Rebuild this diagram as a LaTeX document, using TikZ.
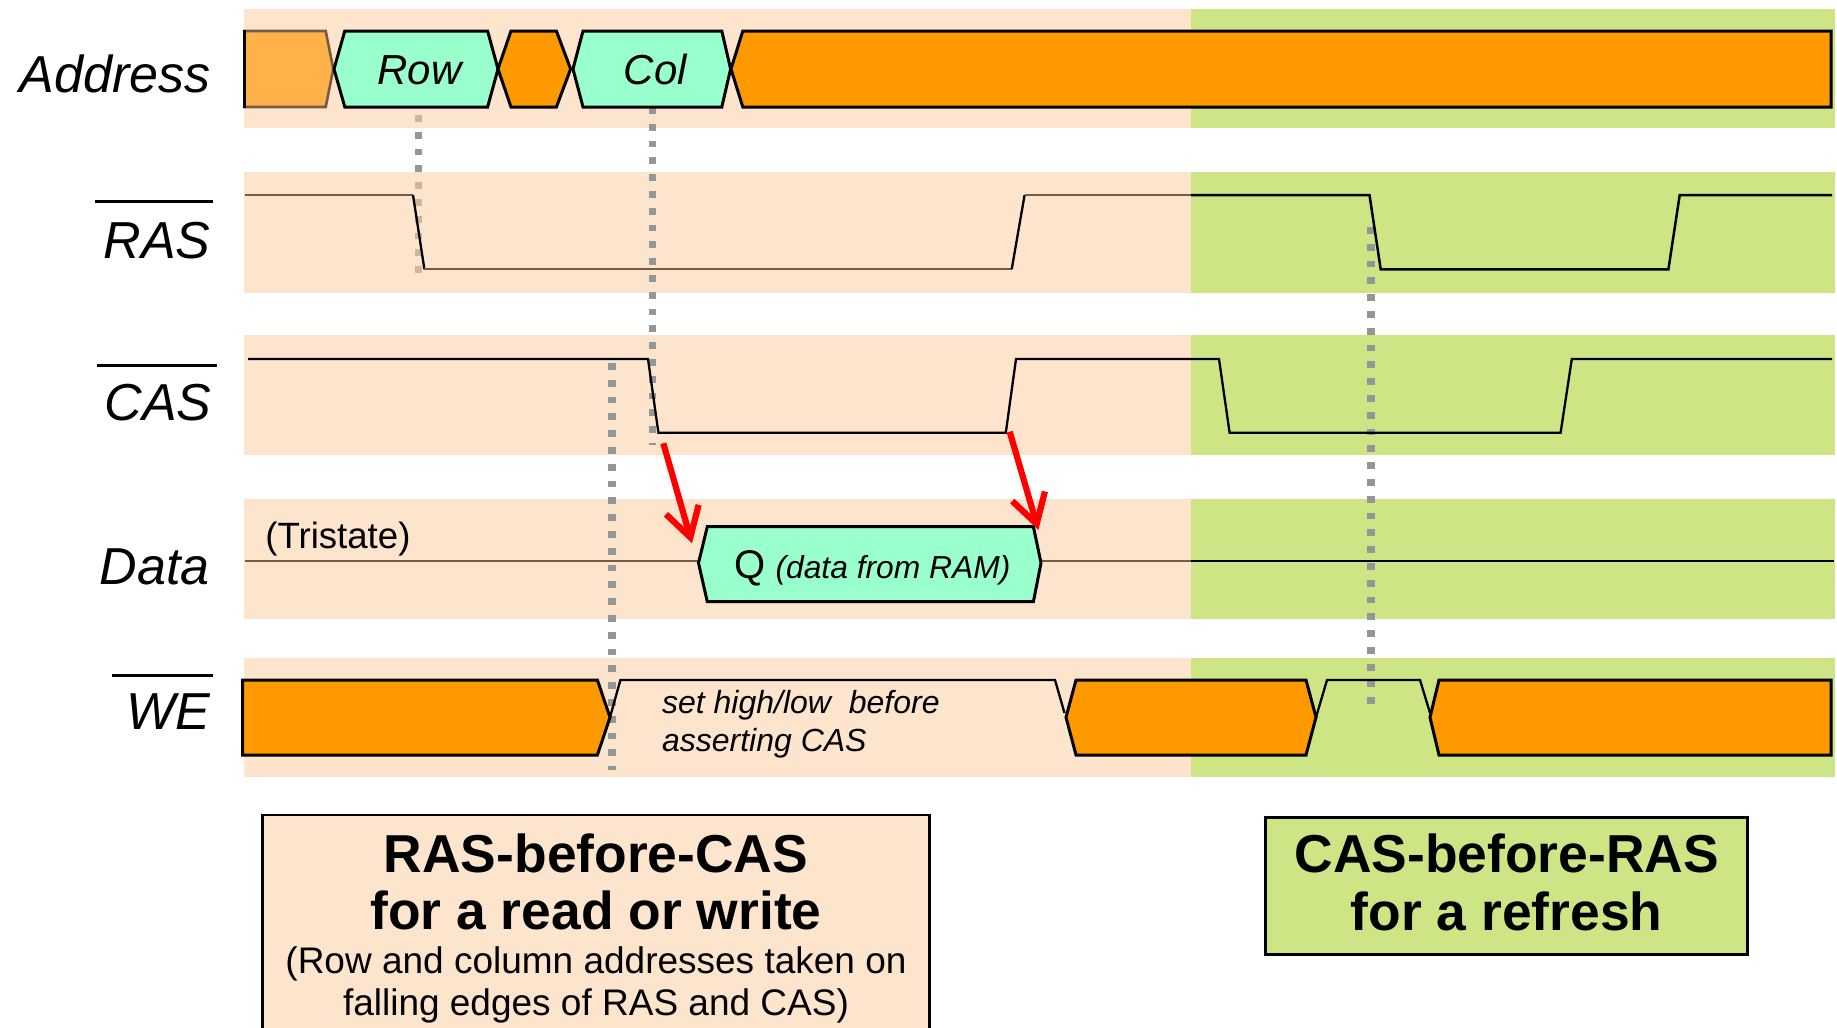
\documentclass[tikz,border=0pt]{standalone}
\usepackage{fontspec}
\setmainfont{Liberation Sans}
\usetikzlibrary{arrows.meta}
\definecolor{peach}{RGB}{253,229,205}
\definecolor{lime}{RGB}{205,229,132}
\definecolor{orng}{RGB}{255,153,0}
\definecolor{lorng}{RGB}{255,178,74}
\definecolor{mint}{RGB}{153,255,204}
\definecolor{dotgray}{RGB}{150,150,150}
\definecolor{sigbrown}{RGB}{120,92,66}
\definecolor{dotlight}{RGB}{205,182,158}
\begin{document}
\begin{tikzpicture}[x=0.5pt,y=-0.5pt,
  band/.style={fill=#1,draw=none},
  hexbox/.style={fill=#1,draw=black,line width=1.5pt,line join=miter},
  sig/.style={draw=black,line width=1.15pt,line join=miter},
  sigb/.style={draw=sigbrown,line width=1.1pt},
  guide/.style={draw=dotgray,line width=3.6pt,dash pattern=on 3.4pt off 5pt},
  redarrow/.style={draw=red,line width=3.1pt,-{Straight Barb[length=14.5pt,width=17pt]}},
  lbl/.style={anchor=base east,inner sep=0pt,font=\fontsize{26}{30}\selectfont\itshape},
  ovl/.style={line width=1.5pt},
  fieldtxt/.style={anchor=base,inner sep=0pt,font=\fontsize{21}{25}\selectfont\itshape},
  notetxt/.style={anchor=base west,inner sep=0pt,font=\fontsize{16}{19}\selectfont\itshape},
  boldtxt/.style={anchor=base,inner sep=0pt,font=\fontsize{26.7}{31}\selectfont\bfseries},
  smalltxt/.style={anchor=base,inner sep=0pt,font=\fontsize{18.5}{22}\selectfont},
  caption/.style={line width=1.25pt,draw=black}
]
\useasboundingbox (0,0) rectangle (1837,1028);
\clip (0,0) rectangle (1837,1028);

% ---------- bands ----------
\foreach \ya/\yb in {9/128,172/293,335/455,499/619,658/777}{
  \path[band=peach] (244,\ya) rectangle (1191,\yb);
  \path[band=lime] (1191,\ya) rectangle (1835,\yb);
}

% ---------- guide (dotted) lines ----------
\coordinate (rowT) at (418.7,115);
\coordinate (rowB) at (418.7,280);
\coordinate (colT) at (652.5,107);
\coordinate (colB) at (652.5,445);
\coordinate (weT) at (612,363);
\coordinate (weB) at (612,770);
\coordinate (refT) at (1371,227);
\coordinate (refB) at (1371,707);
\draw[guide] (rowT) -- (rowB);
\begin{scope}
  \clip (244,9) rectangle (1835,128) (244,172) rectangle (1835,293);
  \draw[guide,draw=dotlight] (rowT) -- (rowB);
\end{scope}
\draw[guide] (colT) -- (colB);
\draw[guide] (weT) -- (weB);
\draw[guide] (refT) -- (refB);

% ---------- Address ----------
\path[fill=lorng,draw=sigbrown,line width=1.3pt] (244.5,31) -- (325.7,31) -- (333.3,69) -- (325.7,107) -- (244.5,107) -- cycle;
\draw[line width=1.5pt] (244.5,30) -- (244.5,108);
\path[hexbox=mint] (334,69) -- (344.8,31) -- (487.6,31) -- (498,69) -- (487.6,107) -- (344.8,107) -- cycle;
\path[hexbox=orng] (498,69) -- (511,31) -- (556.4,31) -- (570.6,69) -- (556.4,107) -- (511,107) -- cycle;
\path[hexbox=mint] (573,69) -- (583,31) -- (721.8,31) -- (730.6,69) -- (721.8,107) -- (583,107) -- cycle;
\path[hexbox=orng] (731,69) -- (742.8,31) -- (1831,31) -- (1831,107) -- (742.8,107) -- cycle;
\node[fieldtxt] (rowtxt) at (419.4,84.3) {Row};
\node[fieldtxt] (coltxt) at (655.5,84.3) {Col};

% ---------- RAS ----------
\draw[sigb] (244.5,195) -- (413,195);
\draw[sig] (413,195) -- (424.4,269.3);
\draw[sigb] (424.4,269.3) -- (1011.7,269.3);
\draw[sig] (1011.7,269.3) -- (1024.6,195);
\draw[sigb] (1024.6,195) -- (1191,195);
\draw[sig,line width=1.25pt] (1191,195) -- (1369.5,195) -- (1380.7,269.3) -- (1668.4,269.3) -- (1679.7,195) -- (1832,195);

% ---------- CAS ----------
\draw[sig] (248,359) -- (648,359) -- (658.4,432.7) -- (1005.8,432.7) -- (1016,359) -- (1219,359) -- (1229.6,432.7) -- (1560.6,432.7) -- (1571.8,359) -- (1832,359);

% ---------- Data ----------
\draw[sigb] (245,561) -- (698.5,561);
\draw[sigb] (1041,561) -- (1191,561);
\draw[sig,line width=1.25pt] (1191,561) -- (1834,561);
\path[hexbox=mint] (698.5,563) -- (707.3,526.7) -- (1033.4,526.7) -- (1041,563) -- (1033.4,601.7) -- (707.3,601.7) -- cycle;
\node[anchor=base west,inner sep=0pt] (qtxt) at (734,578) {\fontsize{20}{24}\selectfont Q\hspace{5pt}{\fontsize{15.9}{19}\selectfont\itshape (data from RAM)}};
\node[anchor=base west,inner sep=0pt,font=\fontsize{18.3}{22}\selectfont] (tri) at (265,548.3) {(Tristate)};

% ---------- WE ----------
\path[hexbox=orng] (242.6,680) -- (597.4,680) -- (610,717.3) -- (597.4,755) -- (242.6,755) -- cycle;
\draw[sig] (610,717.3) -- (620.4,680) -- (1055,680) -- (1064.5,713);
\path[hexbox=orng] (1066,717.3) -- (1076,680) -- (1306,680) -- (1316,717.3) -- (1306,755) -- (1076,755) -- cycle;
\draw[sig] (1316,717.3) -- (1327,680) -- (1420,680) -- (1430,713);
\path[hexbox=orng] (1430,717.3) -- (1439,680) -- (1831,680) -- (1831,755) -- (1439,755) -- cycle;
\node[notetxt] (we1) at (661.7,713) {set high/low\ \ before};
\node[notetxt] (we2) at (661.7,751.7) {asserting CAS};

% ---------- red arrows ----------
\coordinate (a1s) at (663.3,443.3);
\coordinate (a1e) at (692,543.3);
\coordinate (a2s) at (1009.7,431.7);
\coordinate (a2e) at (1038.4,530);
\draw[redarrow] (a1s) -- (a1e);
\draw[redarrow] (a2s) -- (a2e);

% ---------- signal labels ----------
\node[lbl] (laddr) at (211,92) {Address};
\node[lbl] (lras) at (211,258.7) {RAS};
\draw[ovl] (95,201.5) -- (213,201.5);
\node[lbl] (lcas) at (212,420) {CAS};
\draw[ovl] (97,365.7) -- (216.7,365.7);
\node[lbl] (ldata) at (210,584.6) {Data};
\node[lbl] (lwe) at (211,729) {WE};
\draw[ovl] (112,675) -- (213,675);

% ---------- caption boxes ----------
\draw[caption,fill=peach] (262.5,815) rectangle (929.5,1060);
\node[boldtxt] (c1a) at (596,872) {RAS-before-CAS};
\node[boldtxt] (c1b) at (596,929.5) {for a read or write};
\node[smalltxt] (c1c) at (596,973) {(Row and column addresses taken on};
\node[smalltxt] (c1d) at (596,1015) {falling edges of RAS and CAS)};
\draw[caption,fill=lime] (1265.7,817.3) rectangle (1747.7,954.3);
\node[boldtxt] (c2a) at (1506.7,872.5) {CAS-before-RAS};
\node[boldtxt] (c2b) at (1506.7,930.5) {for a refresh};
\end{tikzpicture}
\end{document}
